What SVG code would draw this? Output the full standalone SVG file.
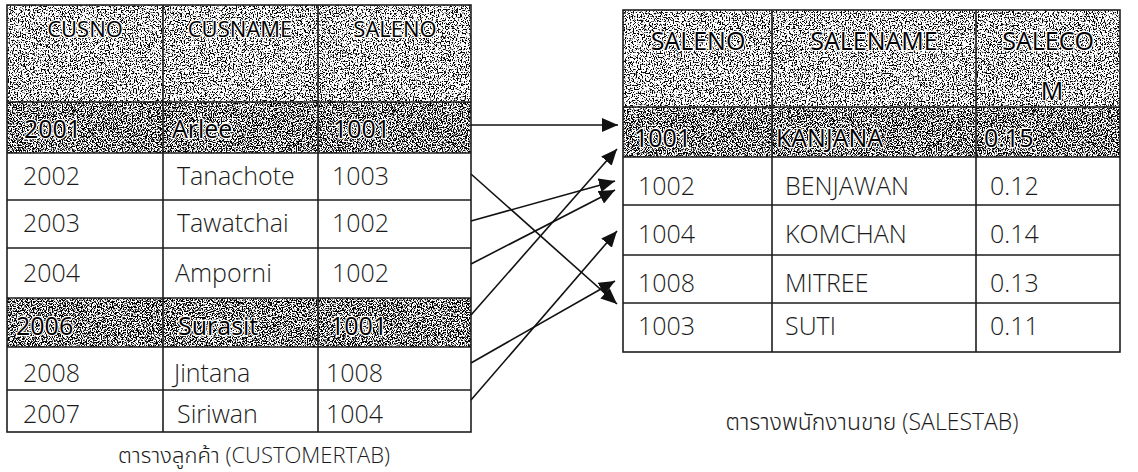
<svg xmlns="http://www.w3.org/2000/svg" width="1138" height="472" viewBox="0 0 1138 472">
<style>
  .t{font-family:"Open Sans","Noto Sans Thai","Noto Sans","DejaVu Sans",sans-serif;font-size:25px;font-weight:300;fill:#1a1a1a}
  .h{font-size:22px}
  .hr{font-size:25px}
  .halo{font-weight:400;fill:#000;stroke:#fff;stroke-width:2.4;paint-order:stroke;stroke-linejoin:round}
  .c{text-anchor:middle}
  .grid{fill:none;stroke:#1e1e1e;stroke-width:1.6}
  .cap{font-size:22px}
  .capr{font-size:23px}
  .conn{stroke:#111;stroke-width:1.6;fill:none;marker-end:url(#ah)}
</style>
<defs>
  <filter id="speckLight" x="0" y="0" width="1" height="1" color-interpolation-filters="sRGB">
    <feFlood flood-color="#ffffff" result="w"/>
    <feTurbulence type="fractalNoise" baseFrequency="0.75" numOctaves="2" seed="4" result="n"/>
    <feColorMatrix in="n" type="matrix" values="0 0 0 0 0  0 0 0 0 0  0 0 0 0 0  1 0 0 0 0" result="a"/>
    <feComponentTransfer in="a" result="b"><feFuncA type="linear" slope="10" intercept="-5.1"/></feComponentTransfer>
    <feMerge><feMergeNode in="w"/><feMergeNode in="b"/></feMerge>
  </filter>
  <filter id="speckDark" x="0" y="0" width="1" height="1" color-interpolation-filters="sRGB">
    <feFlood flood-color="#ffffff" result="w"/>
    <feTurbulence type="fractalNoise" baseFrequency="0.8" numOctaves="2" seed="9" result="n"/>
    <feColorMatrix in="n" type="matrix" values="0 0 0 0 0  0 0 0 0 0  0 0 0 0 0  1 0 0 0 0" result="a"/>
    <feComponentTransfer in="a" result="b"><feFuncA type="linear" slope="10" intercept="-4.6"/></feComponentTransfer>
    <feMerge><feMergeNode in="w"/><feMergeNode in="b"/></feMerge>
  </filter>
  <marker id="ah" markerUnits="userSpaceOnUse" markerWidth="18" markerHeight="14" refX="16" refY="7" orient="auto">
    <path d="M0,0 L16,7 L0,14 z" fill="#111"/>
  </marker>
</defs>
<rect width="1138" height="472" fill="#ffffff"/>

<g id="customertab">
  <g id="cus-header">
    <rect x="7" y="5" width="464" height="97" fill="#888" filter="url(#speckLight)"/>
    <text class="t h c halo" x="85" y="37">CUSNO</text>
    <text class="t h c halo" x="240" y="37">CUSNAME</text>
    <text class="t h c halo" x="395" y="37">SALENO</text>
  </g>
  <g id="cus-2001">
    <rect x="7" y="102" width="464" height="51" fill="#555" filter="url(#speckDark)"/>
    <text class="t halo" x="24" y="138">2001</text>
    <text class="t halo" x="172" y="138">Arlee</text>
    <text class="t halo" x="333" y="138">1001</text>
  </g>
  <g id="cus-2002">
    <text class="t" x="23" y="185">2002</text>
    <text class="t" x="177" y="185">Tanachote</text>
    <text class="t" x="332" y="185">1003</text>
  </g>
  <g id="cus-2003">
    <text class="t" x="23" y="232">2003</text>
    <text class="t" x="177" y="232">Tawatchai</text>
    <text class="t" x="332" y="232">1002</text>
  </g>
  <g id="cus-2004">
    <text class="t" x="23" y="282">2004</text>
    <text class="t" x="175" y="282">Amporni</text>
    <text class="t" x="332" y="282">1002</text>
  </g>
  <g id="cus-2006">
    <rect x="7" y="298" width="464" height="49" fill="#555" filter="url(#speckDark)"/>
    <text class="t halo" x="16" y="335">2006</text>
    <text class="t halo" x="178" y="335">Surasit</text>
    <text class="t halo" x="330" y="335">1001</text>
  </g>
  <g id="cus-2008">
    <text class="t" x="23" y="382">2008</text>
    <text class="t" x="174" y="382">Jintana</text>
    <text class="t" x="326" y="382">1008</text>
  </g>
  <g id="cus-2007">
    <text class="t" x="23" y="423">2007</text>
    <text class="t" x="177" y="423">Siriwan</text>
    <text class="t" x="326" y="423">1004</text>
  </g>
  <g id="cus-grid">
    <rect class="grid" x="7" y="5" width="464" height="427"/>
    <path class="grid" d="M163,5 V432 M318,5 V432 M7,102 H471 M7,153 H471 M7,200 H471 M7,248 H471 M7,298 H471 M7,347 H471 M7,390 H471"/>
  </g>
  <text id="cus-caption" class="t cap c" x="254" y="463">ตารางลูกค้า (CUSTOMERTAB)</text>
</g>

<g id="salestab">
  <g id="sal-header">
    <rect x="623" y="10" width="497" height="97" fill="#888" filter="url(#speckLight)"/>
    <text class="t hr c halo" x="698" y="50">SALENO</text>
    <text class="t hr c halo" x="874" y="50">SALENAME</text>
    <text class="t hr c halo" x="1048" y="50">SALECO</text>
    <text class="t hr c halo" x="1052" y="100">M</text>
  </g>
  <g id="sal-1001">
    <rect x="623" y="107" width="497" height="50" fill="#555" filter="url(#speckDark)"/>
    <text class="t halo" x="634" y="147">1001</text>
    <text class="t halo" x="776" y="147">KANJANA</text>
    <text class="t halo" x="984" y="147">0.15</text>
  </g>
  <g id="sal-1002">
    <text class="t" x="638" y="195">1002</text>
    <text class="t" x="785" y="195">BENJAWAN</text>
    <text class="t" x="990" y="195">0.12</text>
  </g>
  <g id="sal-1004">
    <text class="t" x="638" y="243">1004</text>
    <text class="t" x="785" y="243">KOMCHAN</text>
    <text class="t" x="990" y="243">0.14</text>
  </g>
  <g id="sal-1008">
    <text class="t" x="638" y="292">1008</text>
    <text class="t" x="785" y="292">MITREE</text>
    <text class="t" x="990" y="292">0.13</text>
  </g>
  <g id="sal-1003">
    <text class="t" x="638" y="335">1003</text>
    <text class="t" x="785" y="335">SUTI</text>
    <text class="t" x="990" y="335">0.11</text>
  </g>
  <g id="sal-grid">
    <rect class="grid" x="623" y="10" width="497" height="342"/>
    <path class="grid" d="M772,10 V352 M976,10 V352 M623,107 H1120 M623,157 H1120 M623,205 H1120 M623,255 H1120 M623,303 H1120"/>
  </g>
  <text id="sal-caption" class="t capr c" x="872" y="430">ตารางพนักงานขาย (SALESTAB)</text>
</g>

<g id="connectors">
  <line class="conn" x1="471" y1="125" x2="618" y2="125"/>
  <line class="conn" x1="471" y1="174" x2="617" y2="304"/>
  <line class="conn" x1="471" y1="221" x2="615" y2="181"/>
  <line class="conn" x1="471" y1="264" x2="615" y2="190"/>
  <line class="conn" x1="471" y1="315" x2="617" y2="149"/>
  <line class="conn" x1="471" y1="363" x2="615" y2="281"/>
  <line class="conn" x1="471" y1="400" x2="617" y2="231"/>
</g>
</svg>
